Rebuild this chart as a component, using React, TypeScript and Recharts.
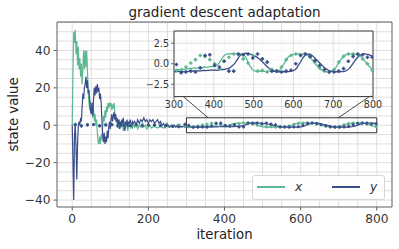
import React from 'react';
import {
  ComposedChart, Line, Scatter, XAxis, YAxis, CartesianGrid,
  ReferenceArea, ReferenceLine, Legend,
} from 'recharts';

const FONT = '"DejaVu Sans", "Liberation Sans", sans-serif';
const TEAL = '#5db892';
const BLUE = '#3b4d8b';
const AXIS = '#5f5f5f';
const GRID = '#dedede';
const TEXT = '#333333';

const range = (a: number, b: number, s: number) => {
  const r: number[] = [];
  for (let v = a; v <= b + 1e-9; v += s) r.push(v);
  return r;
};

// ---- iterations (categories) ----
const earlyIters = range(0, 160, 2);
const midIters = range(164, 300, 4);
const lateIters = range(305, 800, 5);
const markerItersEarly = range(8, 296, 16);
const markerItersLate = range(306, 798, 12);

// ---- state x (teal) ----
const xEarly = [
  0, 30, 50, 44, 51, 38, 45, 32, 42, 30,
  36, 26, 33, 22, 31, 40, 30, 40, 31, 40,
  29, 18, 12, 8, 13, 6, 11, 4, 9, 2,
  6, 0, 3, -4, -9, -10, -6, -10, -5, -8,
  0, 5, 2, 8, 4, 10, 7, 12, 9, 12,
  10, 12, 8, 11, 9, 12, 6, 2, 4, -1,
  2, 0, 3, -2, 1, -1, 2, -3, 0, 1,
  -2, 2, 0, -3, 1, -1, 2, -1, 0, -2,
  1,
];
const xMid = [
  -1, 1, -2, 0, -1, 1, -1, 0, -2, -1,
  0, -1.5, -1, 0, -1, -1.5, -1, -0.5, -1, -1.5,
  -1, -0.5, -1, -1, -0.5, -1, -0.8, -0.5, -1, -0.8,
  -0.6, -0.8, -0.7, -0.8, -0.8,
];
const xLate = [
  -0.8, -0.7, -0.75, -0.6, -0.7, -0.6, -0.65, -0.55, -0.6, -0.5,
  -0.55, -0.5, -0.45, -0.5, -0.4, -0.45, -0.4, -0.35, -0.35, -0.3,
  -0.25, -0.1, 0.2, 0.6, 0.95, 1.15, 1.2, 1.2, 1.25, 1.2,
  1.2, 1.25, 1.2, 1.15, 1.1, 0.8, 0.3, -0.2, -0.6, -0.85,
  -0.9, -0.95, -0.9, -0.95, -0.9, -0.95, -0.9, -0.9, -0.95, -0.9,
  -0.95, -0.9, -0.8, -0.5, -0.1, 0.3, 0.7, 0.95, 1.1, 1.15,
  1.15, 1.2, 1.2, 1.15, 1.2, 1.15, 1.1, 0.9, 0.6, 0.3,
  0.0, -0.3, -0.55, -0.75, -0.85, -0.95, -1.0, -1.0, -0.95, -0.85,
  -0.6, -0.2, 0.2, 0.55, 0.85, 1.05, 1.15, 1.2, 1.2, 1.2,
  1.15, 1.2, 1.1, 0.9, 0.6, 0.3, 0.0, -0.3, -0.55, -0.8,
];

// ---- state y (blue) ----
const yEarly = [
  0, -20, -40, -5, 0, -12, -29, -10, 0, 2,
  0, 4, 2, 10, 17, 14, 20, 22, 26, 20,
  24, 17, 19, 13, 8, 6, 12, 5, 14, 20,
  16, 21, 17, 22, 18, 20, 14, 17, 12, 3,
  -5, -9, -4, -10, -6, -9, -3, -7, -1, 2,
  -2, 3, 6, 2, 5, 7, 3, 6, 2, 4,
  0, 3, -2, 2, -1, 3, 0, 4, 1, -3,
  2, 0, 3, -1, 2, 0, 3, 1, -1, 2,
  1,
];
const yMid = [
  2, 0, 3, 1, 3, 2, 4, 2, 3, 1,
  3, 2, 3, 1, 2, 3, 1, 2, 0, 1,
  -1, 1, 0, -1, 0, -1, 0, -1, 0, -1,
  -0.5, -1, -0.5, -1, -0.9,
];
const yLate = [
  -1.0, -0.9, -1.0, -0.95, -1.0, -0.9, -0.95, -0.9, -0.95, -0.85,
  -0.9, -0.85, -0.9, -0.85, -0.8, -0.85, -0.8, -0.8, -0.75, -0.8,
  -0.75, -0.8, -0.75, -0.7, -0.7, -0.65, -0.6, -0.5, -0.3, -0.1,
  0.2, 0.6, 0.95, 1.15, 1.25, 1.3, 1.25, 1.2, 1.1, 1.0,
  0.9, 0.75, 0.55, 0.35, 0.1, -0.15, -0.4, -0.6, -0.75, -0.85,
  -0.95, -1.0, -0.95, -1.0, -0.95, -1.0, -0.95, -0.95, -0.9, -0.85,
  -0.7, -0.4, 0.0, 0.4, 0.8, 1.05, 1.15, 1.2, 1.1, 0.9,
  0.65, 0.4, 0.15, -0.1, -0.35, -0.55, -0.7, -0.85, -0.9, -0.95,
  -1.0, -0.95, -1.0, -0.95, -0.95, -0.9, -0.8, -0.6, -0.3, 0.05,
  0.4, 0.7, 0.95, 1.1, 1.2, 1.2, 1.15, 1.1, 1.0, 0.9,
];

// ---- observation markers ----
const xMarkEarly = [0.6, -0.4, 0.5, 0.3, -0.5, 0.6, 0.2, -0.3, 0.5, 0.4, -0.2, 0.5, 0.1, -0.4, 0.3, 0.5, -0.3, 0.2, -0.5];
const yMarkEarly = [0.2, -0.3, 0.1, 0.4, -0.2, 0.0, 0.3, -0.4, 0.2, -0.1, 0.3, -0.3, 0.1, 0.2, -0.2, 0.0, -0.6, -0.8, 0.5];
const xMarkLate = [
  -0.8, -0.8, -0.4, 0.1, 0.5, 1.0, 0.9, 0.5, 0.0, -0.6,
  0.3, 0.8, 1.2, 1.1, 0.6, 0.1, 1.0, -0.9, -0.8, -1.0,
  -0.7, -0.9, -0.4, 0.5, 1.0, 1.2, 1.1, 1.2, 0.8, 0.2,
  -0.5, -0.9, -1.0, -0.7, 0.2, 0.9, 1.2, 1.2, 1.1, 0.6,
  0.0, -0.8,
];
const yMarkLate = [
  -0.1, -1.1, -1.0, -0.9, -1.0, -0.5, 1.0, 1.1, -0.2, -0.4,
  0.3, -0.9, -0.9, 1.2, 1.1, 1.2, 0.7, 1.2, 0.6, 0.2,
  -0.9, -0.9, -1.0, -0.9, -0.8, 0.0, 1.0, 1.2, 0.9, 0.4,
  -0.2, -0.7, -1.0, -1.0, -0.9, -0.6, 0.3, 0.9, 1.2, 1.1,
  0.8, 0.8,
];

// ---- ticks ----
const mainXTicks = [0, 200, 400, 600, 800];
const mainYTicks = [-40, -20, 0, 20, 40];
const gridX = range(0, 800, 50);
const gridY = range(-40, 55, 5);
const insetXTicks = [300, 400, 500, 600, 700, 800];
const insetYTicks = [-2.5, 0, 2.5];

const legendItems = [
  { label: 'x', color: TEAL },
  { label: 'y', color: BLUE },
];

// ---- build tables ----
const lineIters = [...earlyIters, ...midIters, ...lateIters];
const xLine = [...xEarly, ...xMid, ...xLate];
const yLine = [...yEarly, ...yMid, ...yLate];
const lineRows = lineIters.map((it, i) => ({ it, x: xLine[i], y: yLine[i] }));
const markIters = [...markerItersEarly, ...markerItersLate];
const xMarks = [...xMarkEarly, ...xMarkLate];
const yMarks = [...yMarkEarly, ...yMarkLate];
const xMarkRows = markIters.map((it, i) => ({ it, v: xMarks[i] }));
const yMarkRows = markIters.map((it, i) => ({ it, v: yMarks[i] }));

const insetLineRows = lineRows.filter((r) => r.it >= 300);
const insetXMarkRows = xMarkRows.filter((r) => r.it >= 300);
const insetYMarkRows = yMarkRows.filter((r) => r.it >= 300);

// ---- geometry ----
const W = 399;
const H = 249;
const MARGIN = { top: 22, right: 7, bottom: 12, left: 0 };
const YW = 57;
const XH = 30;
const plotLeft = MARGIN.left + YW;
const plotRight = W - MARGIN.right;
const plotTop = MARGIN.top;
const plotBottom = H - MARGIN.bottom - XH;
const xDomain: [number, number] = [-40, 840];
const yDomain: [number, number] = [-43.7, 55.2];

const vPoints = gridX.map((v) => plotLeft + ((v - xDomain[0]) / (xDomain[1] - xDomain[0])) * (plotRight - plotLeft));
const hPoints = gridY.map((v) => plotTop + ((yDomain[1] - v) / (yDomain[1] - yDomain[0])) * (plotBottom - plotTop));

const fmt = (v: number) => (v < 0 ? '\u2212' + Math.abs(v) : String(v));
const fmt1 = (v: number) => (v < 0 ? '\u2212' + Math.abs(v).toFixed(1) : v.toFixed(1));

const plus = (color: string, r: number) => (p: any) => {
  const { cx, cy } = p;
  if (cx == null || cy == null || isNaN(cx) || isNaN(cy)) return <g />;
  return (
    <path
      d={`M${cx - r},${cy}H${cx + r}M${cx},${cy - r}V${cy + r}`}
      stroke={color}
      strokeWidth={1.6}
      fill="none"
    />
  );
};

const LegendBox = () => (
  <div
    style={{
      width: 133, height: 25, boxSizing: 'border-box', border: '1px solid #d6d6d6',
      borderRadius: 3, background: 'rgba(255,255,255,0.85)', position: 'relative',
      fontFamily: FONT, fontSize: 12.2, fontStyle: 'italic', color: TEXT,
    }}
  >
    {legendItems.map((it, i) => (
      <React.Fragment key={it.label}>
        <div style={{ position: 'absolute', left: 4 + i * 75, top: 10, width: 28, height: 1.6, background: it.color }} />
        <div style={{ position: 'absolute', left: 42 + i * 75, top: 3, lineHeight: '16px' }}>{it.label}</div>
      </React.Fragment>
    ))}
  </div>
);

export default function App() {
  return (
    <div style={{ position: 'fixed', left: 0, top: 0, width: W, height: H, background: '#fff' }}>
      <div style={{ position: 'absolute', left: 0, top: 0 }}>
        <ComposedChart width={W} height={H} data={lineRows} margin={MARGIN}>
          <CartesianGrid stroke={GRID} verticalPoints={vPoints} horizontalPoints={hPoints} />
          <XAxis
            type="number" dataKey="it" domain={xDomain} ticks={mainXTicks} allowDataOverflow
            height={XH} tickSize={3.5} tickMargin={4} axisLine={false}
            tickLine={{ stroke: AXIS }} tickFormatter={fmt}
            tick={{ fill: TEXT, fontSize: 12.2, fontFamily: FONT }}
          />
          <YAxis
            type="number" domain={yDomain} ticks={mainYTicks} allowDataOverflow
            width={YW} tickSize={3.5} tickMargin={3} axisLine={false}
            tickLine={{ stroke: AXIS }} tickFormatter={fmt}
            tick={{ fill: TEXT, fontSize: 12.2, fontFamily: FONT }}
          />
          <Line dataKey="x" stroke={TEAL} strokeWidth={1.2} dot={false} isAnimationActive={false} />
          <Line dataKey="y" stroke={BLUE} strokeWidth={1.2} dot={false} isAnimationActive={false} />
          <Scatter data={xMarkRows} dataKey="v" shape={plus(TEAL, 1.6)} isAnimationActive={false} />
          <Scatter data={yMarkRows} dataKey="v" shape={plus(BLUE, 1.6)} isAnimationActive={false} />
          <ReferenceArea x1={300} x2={800} y1={-4} y2={4} fill="none" stroke="#333" strokeWidth={1} ifOverflow="visible" />
          <ReferenceLine segment={[{ x: 292, y: 15.3 }, { x: 357, y: 4 }]} stroke="#333" strokeWidth={0.9} ifOverflow="visible" />
          <ReferenceLine segment={[{ x: 787, y: 16.2 }, { x: 699, y: 4 }]} stroke="#333" strokeWidth={0.9} ifOverflow="visible" />
          <ReferenceArea x1={xDomain[0]} x2={xDomain[1]} y1={yDomain[0]} y2={yDomain[1]} fill="none" stroke={AXIS} strokeWidth={1} ifOverflow="visible" />
          <Legend
            verticalAlign="middle" align="center" layout="horizontal"
            wrapperStyle={{ left: 252, top: 175, width: 133, height: 25 }}
            content={() => <LegendBox />}
          />
        </ComposedChart>
      </div>

      <div style={{ position: 'absolute', left: 140, top: 25 }}>
        <ComposedChart width={252} height={90} data={insetLineRows} margin={{ top: 6, right: 19, bottom: 0, left: 0 }}>
          <CartesianGrid stroke={GRID} fill="#ffffff" fillOpacity={0.7} />
          <XAxis
            type="number" dataKey="it" domain={[300, 800]} ticks={insetXTicks} allowDataOverflow
            height={18.5} tickSize={3} tickMargin={2} axisLine={false}
            tickLine={{ stroke: AXIS }}
            tick={{ fill: TEXT, fontSize: 9.6, fontFamily: FONT }}
          />
          <YAxis
            type="number" domain={[-4, 4]} ticks={insetYTicks} allowDataOverflow
            width={34} tickSize={3} tickMargin={2} axisLine={false}
            tickLine={{ stroke: AXIS }} tickFormatter={fmt1}
            tick={{ fill: TEXT, fontSize: 9.6, fontFamily: FONT }}
          />
          <Line dataKey="x" stroke={TEAL} strokeWidth={1.3} dot={false} isAnimationActive={false} />
          <Line dataKey="y" stroke={BLUE} strokeWidth={1.3} dot={false} isAnimationActive={false} />
          <Scatter data={insetXMarkRows} dataKey="v" shape={plus(TEAL, 1.8)} isAnimationActive={false} />
          <Scatter data={insetYMarkRows} dataKey="v" shape={plus(BLUE, 1.8)} isAnimationActive={false} />
          <ReferenceArea x1={300} x2={800} y1={-4} y2={4} fill="none" stroke="#444" strokeWidth={1} ifOverflow="visible" />
        </ComposedChart>
      </div>

      <svg width={W} height={H} style={{ position: 'absolute', left: 0, top: 0, pointerEvents: 'none' }}>
        <text x={(plotLeft + plotRight) / 2} y={17} textAnchor="middle" fontFamily={FONT} fontSize={13.5} fill="#222">
          gradient descent adaptation
        </text>
        <text x={(plotLeft + plotRight) / 2} y={239} textAnchor="middle" fontFamily={FONT} fontSize={13.3} fill="#222">
          iteration
        </text>
        <text
          x={18} y={(plotTop + plotBottom) / 2} textAnchor="middle" fontFamily={FONT} fontSize={13.3} fill="#222"
          transform={`rotate(-90 18 ${(plotTop + plotBottom) / 2})`}
        >
          state value
        </text>
      </svg>
    </div>
  );
}
